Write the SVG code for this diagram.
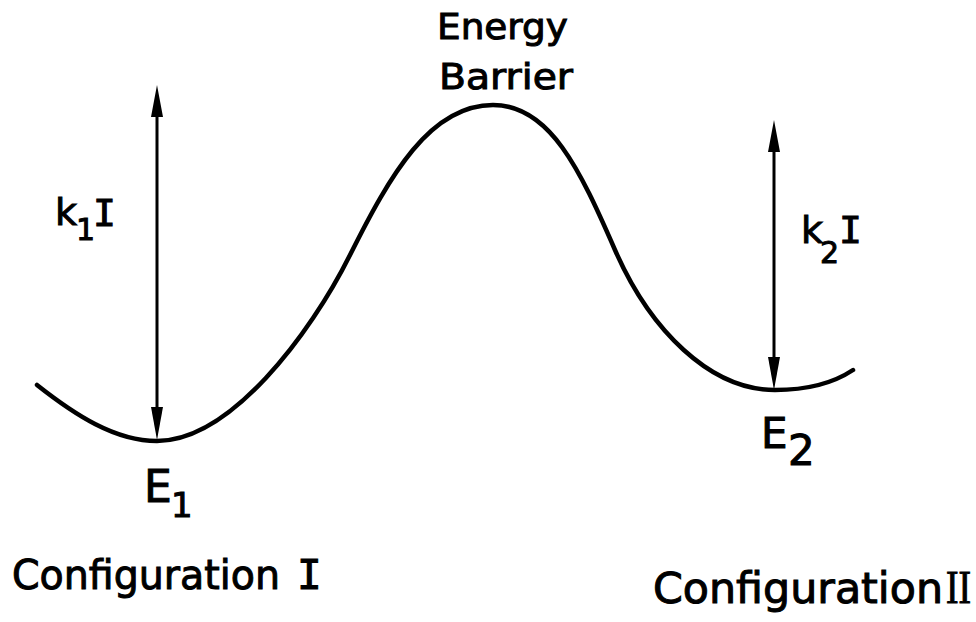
<svg xmlns="http://www.w3.org/2000/svg" width="976" height="622" viewBox="0 0 976 622">
<style>
.t{font-family:"DejaVu Sans","Liberation Sans",sans-serif;fill:#000;stroke:#000;stroke-width:1}
.m{font-family:"DejaVu Sans Mono","Liberation Mono",monospace;fill:#000;stroke:#000;stroke-width:1}
.s{font-family:"Liberation Serif","DejaVu Serif",serif;fill:#000;stroke:#000;stroke-width:1}
.shaft{stroke:#000;stroke-width:3;fill:none}
.curve{stroke:#000;stroke-width:4.5;fill:none;stroke-linecap:round}
</style>
<rect width="976" height="622" fill="#fff"/>
<g id="curve">
<path class="curve" d="M37,385 C75,415 115,441 157,441 C230,441 310,335 350,255 C390,175 430,105 493,105 C550,105 580,170 615,250 C650,330 710,390 775,390 C810,390 835,382 853,370"/>
</g>
<g id="connectors">
<g id="arrow-k1">
<line class="shaft" x1="157" y1="110" x2="157" y2="415"/>
<polygon points="157,85 151,117 163,117"/>
<polygon points="157,440 151,407 163,407"/>
</g>
<g id="arrow-k2">
<line class="shaft" x1="774" y1="140" x2="774" y2="370"/>
<polygon points="774,120 768,152 780,152"/>
<polygon points="774,390 768,357 780,357"/>
</g>
</g>
<g id="label-barrier">
<text class="t" x="437" y="39" font-size="36" textLength="131" lengthAdjust="spacingAndGlyphs">Energy</text>
<text class="t" x="439" y="89" font-size="36" textLength="134" lengthAdjust="spacingAndGlyphs">Barrier</text>
</g>
<g id="label-k1">
<text class="t" x="55" y="225" font-size="38">k</text>
<text class="t" x="76" y="240" font-size="30">1</text>
<text class="m" x="93" y="226" font-size="38">I</text>
</g>
<g id="label-k2">
<text class="t" x="801" y="243" font-size="38">k</text>
<text class="t" x="820" y="263" font-size="30">2</text>
<text class="m" x="839" y="243" font-size="38">I</text>
</g>
<g id="label-e1">
<text class="t" x="144" y="502" font-size="44">E</text>
<text class="t" x="171" y="517" font-size="34">1</text>
</g>
<g id="label-e2">
<text class="t" x="761" y="448" font-size="42">E</text>
<text class="t" x="788" y="465" font-size="42">2</text>
</g>
<g id="label-config1">
<text class="t" x="12" y="589" font-size="41" textLength="268" lengthAdjust="spacingAndGlyphs">Configuration</text>
<text class="m" x="297" y="589" font-size="41">I</text>
</g>
<g id="label-config2">
<text class="t" x="653" y="603" font-size="42" textLength="290" lengthAdjust="spacingAndGlyphs">Configuration</text>
<text class="s" x="946" y="603" font-size="46" textLength="25" lengthAdjust="spacingAndGlyphs">II</text>
</g>
</svg>
